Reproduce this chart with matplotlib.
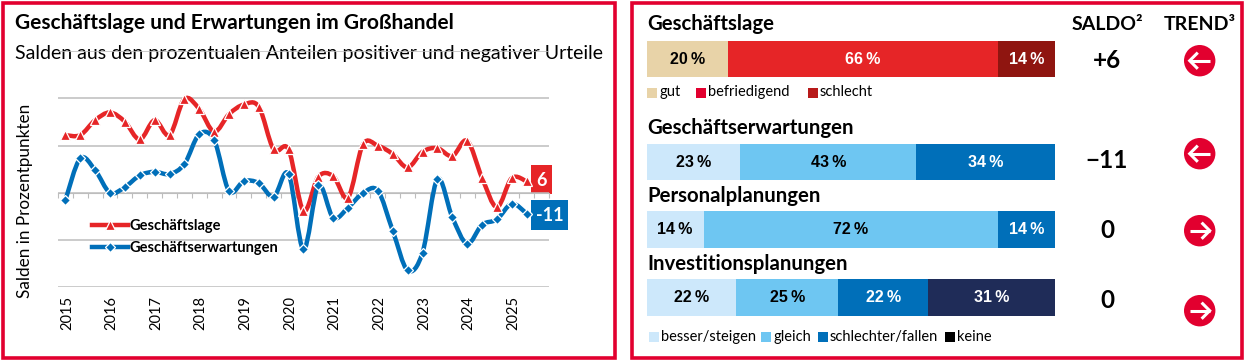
import matplotlib
matplotlib.use('Agg')
import matplotlib.pyplot as plt
from matplotlib.lines import Line2D
from matplotlib.patches import Circle, PathPatch, Rectangle
from matplotlib.path import Path
from matplotlib.transforms import ScaledTranslation
import numpy as np

# Data
lage = [30.5, 30.5, 38.4, 42.5, 37.6, 28.2, 38.4, 30.5, 49.6, 44.3, 32.3, 41.6, 46.7, 45.5, 22.9, 22.9,
        -9.5, 8.5, 8.8, -2.5, 25.6, 24.9, 20.5, 13.4, 21.7, 23.6, 19.4, 27.5, 7.9, -7.6, 7.8, 6]
erwartung = [-4, 18.2, 12, 0, 3, 9.2, 11.1, 9.9, 15.2, 31, 27.9, 0.9, 6.2, 5.1, -2.1, 10,
             -30, 3.9, -13.2, -7.8, -0.2, 1.1, -20.1, -41.1, -31.7, 7.2, -12.9, -27, -16.9, -14.1, -5.8, -11]
years = ['2015', '2016', '2017', '2018', '2019', '2020', '2021', '2022', '2023', '2024', '2025']
row_titles = ['Geschäftslage', 'Geschäftserwartungen', 'Personalplanungen', 'Investitionsplanungen']
row_values = [[20, 66, 14], [23, 43, 34], [14, 72, 14], [22, 25, 22, 31]]
saldo = ['+6', '\u221211', '0', '0']
trend = [-1, -1, 1, 1]

# Common plot values
W, H = 1247, 362
RED = '#E62527'
BLUE = '#006FB9'
FRAME = '#E2002F'
GRID = '#BDBDBD'
row_colors = [['#E8D3A8', RED, '#8F1510'],
              ['#CDE8FB', '#6EC6F2', BLUE],
              ['#CDE8FB', '#6EC6F2', BLUE],
              ['#CDE8FB', '#6EC6F2', BLUE, '#1F2C58']]
row_text = [['k', 'w', 'w'], ['k', 'k', 'w'], ['k', 'k', 'w'], ['k', 'k', 'w', 'w']]
row_top = [41, 143.5, 211, 279]
row_bottom = [77, 180, 248, 316]
title_base = [30, 134, 201.5, 270]
saldo_base = [68, 168, 238, 308]
trend_y = [60.7, 153.7, 230.7, 310.7]
HEAD = 'Lato'
BAR = 'Liberation Sans'

fig = plt.figure(figsize=(W / 100, H / 100), dpi=100)


def px_axes(left, top, right, bottom):
    return fig.add_axes([left / W, 1 - bottom / H, (right - left) / W, (bottom - top) / H])


def smooth_path(x, y):
    # same kind of smoothing as an Excel line chart
    pts = np.column_stack([x, y])
    verts = [pts[0]]
    codes = [Path.MOVETO]
    for i in range(len(pts) - 1):
        before = pts[max(i - 1, 0)]
        after = pts[min(i + 2, len(pts) - 1)]
        verts += [pts[i] + (pts[i + 1] - before) / 6, pts[i + 1] - (after - pts[i]) / 6, pts[i + 1]]
        codes += [Path.CURVE4] * 3
    return Path(verts, codes)


# Page layer in pixel coordinates: frames, texts, swatches, arrows
page = px_axes(0, 0, W, H)
page.set_xlim(0, W)
page.set_ylim(H, 0)
page.axis('off')
page.add_patch(Rectangle((3, 3), 612, 354.5, fc='none', ec=FRAME, lw=2.6))
page.add_patch(Rectangle((632, 3), 610, 354.5, fc='none', ec=FRAME, lw=2.6))

page.text(15, 29, 'Geschäftslage und Erwartungen im Großhandel', family=HEAD, weight='bold', fontsize=15)
page.text(15, 59, 'Salden aus den prozentualen Anteilen positiver und negativer Urteile', family=HEAD, fontsize=14)
page.text(25, 201, 'Salden in Prozentpunkten', family=HEAD, fontsize=12.3, rotation=90, ha='center', va='center')

page.text(1107, 30, 'SALDO²', family=HEAD, weight='bold', fontsize=14, ha='center')
page.text(1199.5, 30, 'TREND³', family=HEAD, weight='bold', fontsize=14, ha='center')

for name, t_base, val, s_base, y_c, direction in zip(row_titles, title_base, saldo, saldo_base, trend_y, trend):
    page.text(647.5, t_base, name, family=HEAD, weight='bold', fontsize=14.7)
    page.text(1107, s_base, val, family=HEAD, weight='bold', fontsize=17.5, ha='center')
    page.add_patch(Circle((1199.7, y_c), 15.7, fc=FRAME, ec='none'))
    page.plot([1199.7 - 10, 1199.7 + 10], [y_c, y_c], color='w', lw=2.2, solid_capstyle='butt')
    tip = 1199.7 + 10 * direction
    page.plot([tip - 7 * direction, tip, tip - 7 * direction], [y_c - 7, y_c, y_c + 7],
              color='w', lw=2.2, solid_joinstyle='miter')

# Legends under the bars
for x, label, color, y0, base in [(647, 'gut', '#E8D3A8', 88, 96), (696, 'befriedigend', FRAME, 88, 96),
                                  (808, 'schlecht', '#B81A1A', 88, 96),
                                  (649, 'besser/steigen', '#CDE8FB', 332, 341), (761, 'gleich', '#6EC6F2', 332, 341),
                                  (818, 'schlechter/fallen', BLUE, 332, 341), (945, 'keine', 'k', 332, 341)]:
    page.add_patch(Rectangle((x, y0), 10, 10, fc=color, ec='none'))
    page.text(x + 12, base, label, family=HEAD, fontsize=10.5)

# Line chart
ax = px_axes(57.9, 51, 549, 287.3)
ax.patch.set_alpha(0)
xs = np.arange(len(lage))
ax.set_xlim(-0.5, 32.5)
ax.set_ylim(-50, 75)
ax.set_yticks([-50, -25, 0, 25, 50, 75])
ax.yaxis.grid(True, color=GRID, lw=1.1)
ax.set_axisbelow(True)
ax.tick_params(axis='y', length=0, labelleft=False)
for s in ['top', 'left', 'right']:
    ax.spines[s].set_visible(False)
ax.spines['bottom'].set_position(('data', 0))
ax.spines['bottom'].set_color(GRID)
ax.set_xticks(np.arange(-0.5, 33, 1))
ax.tick_params(axis='x', direction='out', length=3.5, width=0.8, color=GRID, labelbottom=False)

sec = ax.secondary_xaxis('bottom')
sec.set_xticks(np.arange(0, 33, 3)[:len(years)], years)
sec.tick_params(axis='x', length=0, pad=6, labelrotation=90, labelsize=10.5)
sec.spines['bottom'].set_visible(False)
nudge = ScaledTranslation(1.5 / 100, 0, fig.dpi_scale_trans)
for lbl in sec.get_xticklabels():
    lbl.set_family(HEAD)
    lbl.set_transform(lbl.get_transform() + nudge)

ax.add_patch(PathPatch(smooth_path(xs, lage), fc='none', ec=RED, lw=3.2, zorder=3))
ax.add_patch(PathPatch(smooth_path(xs, erwartung), fc='none', ec=BLUE, lw=3.2, zorder=3))
ax.plot(xs, lage, ls='none', marker='^', ms=7, mfc=RED, mec='w', mew=0.9, zorder=4)
ax.plot(xs, erwartung, ls='none', marker='D', ms=5, mfc=BLUE, mec='w', mew=0.9, zorder=4)

handles = [Line2D([0], [0], color=RED, lw=3.2, marker='^', ms=7, mfc=RED, mec='w', mew=0.9),
           Line2D([0], [0], color=BLUE, lw=3.2, marker='D', ms=5, mfc=BLUE, mec='w', mew=0.9)]
ax.legend(handles, ['Geschäftslage', 'Geschäftserwartungen'], loc='upper left', frameon=False,
          bbox_to_anchor=((91.5 - 57.9) / 491.1, 1 - (219 - 51) / 236.3), borderaxespad=0, borderpad=0,
          handlelength=2.5, handletextpad=0.1, labelspacing=0.55, numpoints=1,
          prop={'family': HEAD, 'weight': 'bold', 'size': 10.5})

for label, color, top, bottom, right in [('6', RED, 165, 194, 552), ('-11', BLUE, 200, 230, 568)]:
    page.add_patch(Rectangle((531, top), right - 531, bottom - top, fc=color, ec='none', zorder=5))
    page.text((531 + right) / 2, (top + bottom) / 2 + 0.5, label, color='w', family=HEAD, weight='bold', fontsize=13,
              ha='center', va='center', zorder=6)

# Stacked bars
bars = px_axes(646.5, 0, 1055, H)
bars.patch.set_alpha(0)
bars.set_xlim(0, 100)
bars.set_ylim(H, 0)
bars.axis('off')
for values, colors, text_colors, top, bottom in zip(row_values, row_colors, row_text, row_top, row_bottom):
    left = 0
    for val, color, tc in zip(values, colors, text_colors):
        bars.barh((top + bottom) / 2, val, left=left, height=bottom - top, color=color, lw=0)
        bars.text(left + val / 2, (top + bottom) / 2 + 0.5, f'{val}\u2009%', color=tc, family=BAR, weight='bold',
                  fontsize=11.5, ha='center', va='center')
        left += val

fig.savefig('out.png', dpi=100)
